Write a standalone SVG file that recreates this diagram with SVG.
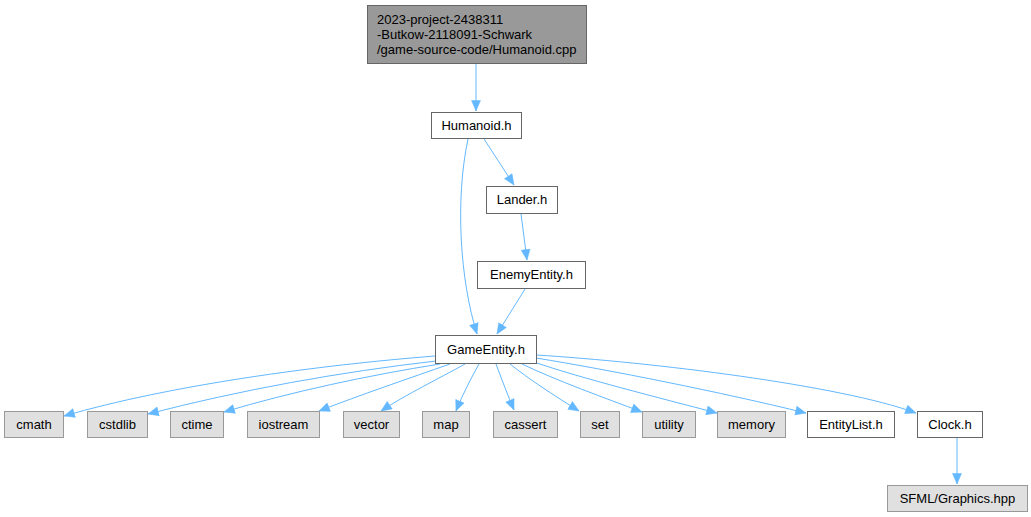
<svg xmlns="http://www.w3.org/2000/svg" width="1031" height="517" viewBox="0 0 1031 517">
<defs>
<style>
.n rect{fill:#ffffff;stroke:#666666;stroke-width:1}
.g rect{fill:#e0e0e0;stroke:#999999;stroke-width:1}
.top rect{fill:#999999;stroke:#666666;stroke-width:1}
text{font-family:"Liberation Sans",Arial,sans-serif;font-size:13px;fill:#000000}
.c text{text-anchor:middle}
#edges path{fill:none;stroke:#63b8ff;stroke-width:1;marker-end:url(#ah)}
</style>
<marker id="ah" markerUnits="userSpaceOnUse" markerWidth="12" markerHeight="10" refX="11" refY="5" orient="auto">
<path d="M0.5,0.5 L11,5 L0.5,9.5 Z" fill="#63b8ff" stroke="#63b8ff" stroke-width="0.5"/>
</marker>
</defs>
<rect width="1031" height="517" fill="#ffffff"/>
<g id="edges">
<path d="M476,63 L476,111"/>
<path d="M468,139 C455,200 460,280 477,334"/>
<path d="M484,139 L514,185"/>
<path d="M521,214 L527,260"/>
<path d="M525,289 L497,334"/>
<path d="M957,438 L957,484"/>
<path d="M435,356 C320,365 170,385 64,416"/>
<path d="M436,361 C340,372 240,390 148,414"/>
<path d="M440,364 C370,375 290,392 224,412"/>
<path d="M450,364 C410,378 360,395 319,411"/>
<path d="M465,364 C440,378 405,395 381,411"/>
<path d="M479,364 C470,380 462,396 456,411"/>
<path d="M496,364 C502,380 508,396 514,410"/>
<path d="M510,364 C530,380 555,396 579,411"/>
<path d="M522,364 C555,380 605,398 642,412"/>
<path d="M534,362 C580,378 660,398 717,413"/>
<path d="M536,358 C610,370 720,392 806,413"/>
<path d="M536,355 C650,362 840,385 916,413"/>
</g>
<g id="node_top" class="top"><rect x="367.5" y="5.5" width="219" height="58"/>
<text x="377" y="24">2023-project-2438311</text><text x="377" y="39">-Butkow-2118091-Schwark</text><text x="377" y="54">/game-source-code/Humanoid.cpp</text></g>
<g id="node_humanoid" class="n c"><rect x="431.5" y="112.5" width="90" height="26"/><text x="476.5" y="130">Humanoid.h</text></g>
<g id="node_lander" class="n c"><rect x="486.5" y="186.5" width="71" height="27"/><text x="522" y="204">Lander.h</text></g>
<g id="node_enemy" class="n c"><rect x="477.5" y="261.5" width="108" height="27"/><text x="531.5" y="279">EnemyEntity.h</text></g>
<g id="node_gameentity" class="n c"><rect x="435.5" y="335.5" width="101" height="28"/><text x="486" y="354">GameEntity.h</text></g>
<g id="node_cmath" class="g c"><rect x="4.5" y="411.5" width="59" height="26"/><text x="34" y="429">cmath</text></g>
<g id="node_cstdlib" class="g c"><rect x="87.5" y="411.5" width="60" height="26"/><text x="117.5" y="429">cstdlib</text></g>
<g id="node_ctime" class="g c"><rect x="170.5" y="411.5" width="53" height="26"/><text x="197" y="429">ctime</text></g>
<g id="node_iostream" class="g c"><rect x="247.5" y="411.5" width="72" height="26"/><text x="283.5" y="429">iostream</text></g>
<g id="node_vector" class="g c"><rect x="343.5" y="411.5" width="56" height="26"/><text x="371.5" y="429">vector</text></g>
<g id="node_map" class="g c"><rect x="422.5" y="411.5" width="47" height="26"/><text x="446" y="429">map</text></g>
<g id="node_cassert" class="g c"><rect x="493.5" y="411.5" width="64" height="26"/><text x="525.5" y="429">cassert</text></g>
<g id="node_set" class="g c"><rect x="580.5" y="411.5" width="39" height="26"/><text x="600" y="429">set</text></g>
<g id="node_utility" class="g c"><rect x="642.5" y="411.5" width="53" height="26"/><text x="669" y="429">utility</text></g>
<g id="node_memory" class="g c"><rect x="717.5" y="411.5" width="68" height="26"/><text x="751.5" y="429">memory</text></g>
<g id="node_entitylist" class="n c"><rect x="807.5" y="411.5" width="87" height="26"/><text x="851" y="429">EntityList.h</text></g>
<g id="node_clock" class="n c"><rect x="917.5" y="411.5" width="65" height="26"/><text x="950" y="429">Clock.h</text></g>
<g id="node_sfml" class="g c"><rect x="887.5" y="485.5" width="140" height="26"/><text x="957.5" y="503">SFML/Graphics.hpp</text></g>
</svg>
